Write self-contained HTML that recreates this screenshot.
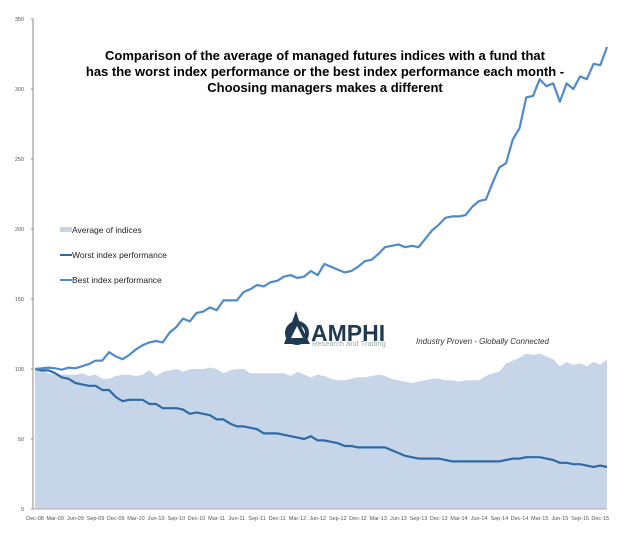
<!DOCTYPE html>
<html><head><meta charset="utf-8"><style>
body{margin:0;background:#fff;}
svg text{font-family:"Liberation Sans",sans-serif;}
</style></head><body>
<svg id="chart" width="640" height="537" xmlns="http://www.w3.org/2000/svg">
<g id="title" font-weight="bold" font-size="13" text-anchor="middle" fill="#000">
<text x="325" y="60">Comparison of the average of managed futures indices with a fund that</text>
<text x="325" y="76">has the worst index performance or the best index performance each month -</text>
<text x="325" y="92">Choosing managers makes a different</text>
</g>
<g id="plot"></g>
<g id="logo">
<path d="M296 311 L300 324 L310 344 L284 344 Z" fill="#1f3a52"/>
<circle cx="297" cy="333" r="10" fill="none" stroke="#1f3a52" stroke-width="4"/>
<path d="M297 326 L303 338 L291 338 Z" fill="#fff"/>
<text x="311" y="341" font-size="23" font-weight="bold" fill="#1f3a52">AMPHI</text>
<text x="312" y="346" font-size="7.5" fill="#9aa">Research and Trading</text>
<text x="416" y="344" font-size="8" font-style="italic" fill="#333" font-family="Liberation Serif,serif">Industry Proven - Globally Connected</text>
</g>
<g id="legend" font-size="8.5" fill="#222">
<rect x="60" y="227" width="12" height="5" fill="#c6d6e8"/>
<text x="72" y="233">Average of indices</text>
<line x1="60" y1="255" x2="72" y2="255" stroke="#2f6aa6" stroke-width="2"/>
<text x="72" y="258">Worst index performance</text>
<line x1="60" y1="280" x2="72" y2="280" stroke="#4f8bc9" stroke-width="2"/>
<text x="72" y="283">Best index performance</text>
</g>
</svg>
<script>
const xLabels=["Dec-08","Mar-09","Jun-09","Sep-09","Dec-09","Mar-10","Jun-10","Sep-10","Dec-10","Mar-11","Jun-11","Sep-11","Dec-11","Mar-12","Jun-12","Sep-12","Dec-12","Mar-13","Jun-13","Sep-13","Dec-13","Mar-14","Jun-14","Sep-14","Dec-14","Mar-15","Jun-15","Sep-15","Dec-15"];
const yTicks=[0,50,100,150,200,250,300,350];
const averageValues=[100,99,97,96,96,96,96,97,95,96,93,93,95,96,96,95,96,99,95,98,99,100,98,100,100,100,101,100,97,99,100,100,97,97,97,97,97,97,95,98,96,94,96,95,93,92,92,93,94,94,95,96,95,93,92,91,90,91,92,93,93,92,92,91,92,92,92,95,97,98,104,106,108,111,110,111,109,107,102,105,103,104,102,105,103,107];
const worstValues=[100,99,99,97,94,93,90,89,88,88,85,85,80,77,78,78,78,75,75,72,72,72,71,68,69,68,67,64,64,61,59,59,58,57,54,54,54,53,52,51,50,52,49,49,48,47,45,45,44,44,44,44,44,42,40,38,37,36,36,36,36,35,34,34,34,34,34,34,34,34,35,36,36,37,37,37,36,35,33,33,32,32,31,30,31,30];
const bestValues=[100,100.5,101,100.5,99.5,101,100.5,102,103.5,106,106,112,109,107,110,114,117,119,120,119,126,130,136,134,140,141,144,142,149,149,149,155,157,160,159,162,163,166,167,165,166,170,167,175,173,171,169,170,173,177,178,182,187,188,189,187,188,187,193,199,203,208,209,209,210,216,220,221,233,244,247,264,272,294,295,307,302,304,291,304,300,309,307,318,317,330];
const X0=35,X1=607,Y0=509,Y1=19;
const n=bestValues.length;
function xS(i){return X0+(X1-X0)*i/(n-1);}
function yS(v){return Y0-(Y0-Y1)*v/350;}
const NS="http://www.w3.org/2000/svg";
const plot=document.getElementById('plot');
function mk(t,a){const e=document.createElementNS(NS,t);for(const k in a)e.setAttribute(k,a[k]);plot.appendChild(e);return e;}
let d="M"+xS(0)+","+yS(0);
averageValues.forEach((v,i)=>{d+=" L"+xS(i)+","+yS(v);});
d+=" L"+xS(averageValues.length-1)+","+yS(0)+" Z";
const area=mk('path',{d:d,fill:'#c6d6e8'});


function line(vals,col,name){
 const p=vals.map((v,i)=>(i?"L":"M")+xS(i)+","+yS(v)).join(" ");
 const e=mk('path',{d:p,fill:'none',stroke:col,'stroke-width':2.2,'stroke-linejoin':'round'});
 
 
}
line(worstValues,'#2f6aa6','worst-line');
line(bestValues,'#4f8bc9','best-line');
const ax=mk('line',{x1:33,y1:Y1,x2:33,y2:Y0,stroke:'#888','stroke-width':1});


const bx=mk('line',{x1:33,y1:Y0,x2:X1,y2:Y0,stroke:'#aaa','stroke-width':1});


yTicks.forEach(t=>{
 const tk=mk('line',{x1:31,y1:yS(t),x2:33,y2:yS(t),stroke:'#888'});
 
 
 const tx=mk('text',{x:24,y:yS(t)+2,'font-size':5.5,'text-anchor':'end',fill:'#555'});
 tx.textContent=t;
 
 
});
xLabels.forEach((l,k)=>{
 const x=xS(k*3);
 const tx=mk('text',{x:x,y:520,'font-size':5.5,'text-anchor':'middle',fill:'#555'});
 tx.textContent=l;
 
 
});
</script>
</body></html>
